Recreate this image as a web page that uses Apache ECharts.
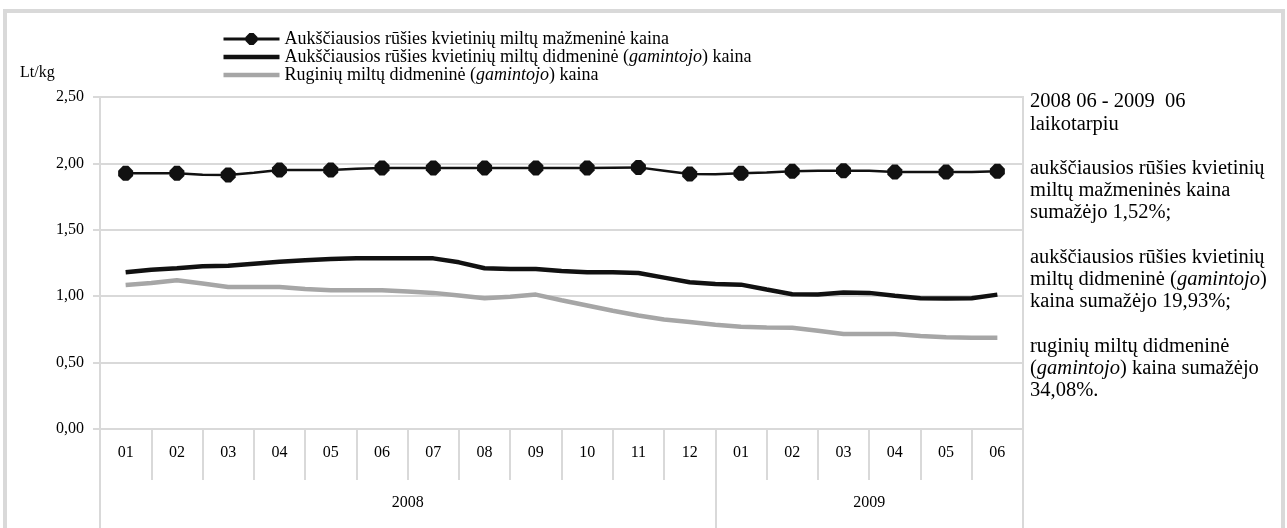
<!DOCTYPE html>
<html>
<head>
<meta charset="utf-8">
<script src="https://cdn.jsdelivr.net/npm/echarts@6/dist/echarts.min.js"></script>
<style>
html,body{margin:0;padding:0;background:#fff;}
#chart{width:1287px;height:528px;}
</style>
</head>
<body>
<div id="chart"></div>
<script>
// ---- data ----
const months = ['01','02','03','04','05','06','07','08','09','10','11','12','01','02','03','04','05','06'];
const years = ['2008', '2009'];
const yearSpans = [12, 6];
const seriesNames = [
  'Aukščiausios rūšies kvietinių miltų mažmeninė kaina',
  'Aukščiausios rūšies kvietinių miltų didmeninė (gamintojo) kaina',
  'Ruginių miltų didmeninė (gamintojo) kaina'
];
// half-month resolution: month, mid, month, mid, ... (35 points, 01-2008 .. 06-2009)
const retail = [1.925,1.925,1.925,1.915,1.913,1.930,1.950,1.950,1.950,1.960,1.966,1.966,1.966,1.966,1.966,1.966,1.966,1.966,1.966,1.968,1.970,1.945,1.920,1.918,1.925,1.932,1.940,1.945,1.945,1.945,1.935,1.935,1.935,1.935,1.940];
const wheatWholesale = [1.18,1.20,1.21,1.225,1.23,1.245,1.26,1.27,1.28,1.285,1.285,1.285,1.285,1.255,1.21,1.205,1.205,1.19,1.18,1.18,1.175,1.14,1.105,1.092,1.087,1.05,1.015,1.012,1.027,1.025,1.003,0.985,0.983,0.985,1.012];
const ryeWholesale = [1.085,1.10,1.12,1.095,1.07,1.07,1.07,1.055,1.045,1.045,1.045,1.035,1.025,1.005,0.985,0.995,1.012,0.97,0.93,0.89,0.855,0.825,0.805,0.785,0.77,0.765,0.762,0.74,0.715,0.715,0.715,0.70,0.69,0.688,0.688];
const yTicks = [0, 0.5, 1.0, 1.5, 2.0, 2.5];
const noteLines = [
  '2008 06 - 2009  06',
  'laikotarpiu',
  '',
  'aukščiausios rūšies kvietinių',
  'miltų mažmeninės kaina',
  'sumažėjo 1,52%;',
  '',
  'aukščiausios rūšies kvietinių',
  'miltų didmeninė ({i|gamintojo})',
  'kaina sumažėjo 19,93%;',
  '',
  'ruginių miltų didmeninė',
  '({i|gamintojo}) kaina sumažėjo',
  '34,08%.'
];

// ---- build ----
const FONT = '"Liberation Serif","Times New Roman",serif';
const nMonths = months.length;
const toPairs = arr => arr.map((v, i) => [0.5 + i * 0.5, v]);
const yearCats = new Array(nMonths * 2 + 1).fill('');
const yearBounds = [0];
let acc = 0;
years.forEach((y, k) => {
  yearCats[(acc * 2) + yearSpans[k]] = y;
  acc += yearSpans[k];
  yearBounds.push(acc * 2);
});
const marker = 'path://M-0.35,-1 L0.35,-1 L1,-0.35 L1,0.35 L0.35,1 L-0.35,1 L-1,0.35 L-1,-0.35 Z';
const thickLine = 'path://M0,0 L56,0 L56,4.5 L0,4.5 Z';
const gridColor = '#d9d9d9';

const chart = echarts.init(document.getElementById('chart'));
chart.setOption({
  animation: false,
  backgroundColor: '#fff',
  textStyle: { fontFamily: FONT, color: '#000' },
  grid: { left: 100, right: 264, top: 97, bottom: 99, show: true, borderColor: gridColor, borderWidth: 2, containLabel: false },
  legend: {
    orient: 'vertical',
    left: 217,
    top: 25,
    itemWidth: 56,
    itemHeight: 15,
    itemGap: 0,
    data: [
      { name: seriesNames[0], lineStyle: { width: 3, color: '#111' } },
      { name: seriesNames[1], icon: thickLine, itemStyle: { color: '#111' } },
      { name: seriesNames[2], icon: thickLine, itemStyle: { color: '#a6a6a6' } }
    ],
    formatter: n => n.replace('(gamintojo)', '({i|gamintojo})'),
    textStyle: {
      fontFamily: FONT, fontSize: 18, lineHeight: 17.5, color: '#000',
      rich: { i: { fontStyle: 'italic', fontFamily: FONT, fontSize: 18, lineHeight: 17.5, color: '#000' } }
    }
  },
  xAxis: [
    {
      type: 'category', data: months, position: 'bottom', boundaryGap: true,
      axisLine: { show: true, lineStyle: { color: gridColor, width: 2 } },
      axisTick: { show: true, interval: 0, length: 51, lineStyle: { color: gridColor, width: 2 } },
      axisLabel: { interval: 0, margin: 16, color: '#000', fontFamily: FONT, fontSize: 16 },
      splitLine: { show: false }
    },
    {
      type: 'category', data: yearCats, position: 'bottom', boundaryGap: false,
      axisLine: { show: false },
      axisTick: { show: true, interval: (i) => yearBounds.indexOf(i) >= 0, length: 99, lineStyle: { color: gridColor, width: 2 } },
      axisLabel: { interval: (i, v) => v !== '', margin: 66, color: '#000', fontFamily: FONT, fontSize: 16 },
      splitLine: { show: false }
    },
    { type: 'value', min: 0, max: nMonths, show: false }
  ],
  yAxis: {
    type: 'value', min: yTicks[0], max: yTicks[yTicks.length - 1], interval: 0.5,
    axisLine: { show: true, lineStyle: { color: gridColor, width: 2 } },
    axisTick: { show: true, length: 7, lineStyle: { color: gridColor, width: 2 } },
    axisLabel: { margin: 16, color: '#000', fontFamily: FONT, fontSize: 16, formatter: v => v.toFixed(2).replace('.', ',') },
    splitLine: { show: true, lineStyle: { color: gridColor, width: 2 } }
  },
  series: [
    {
      name: seriesNames[0], type: 'line', xAxisIndex: 2,
      data: toPairs(retail).map((p, i) => i % 2 === 0 ? { value: p } : { value: p, symbol: 'none' }),
      symbol: marker, symbolSize: 15,
      lineStyle: { color: '#111', width: 2.5 },
      itemStyle: { color: '#111' },
      z: 4
    },
    {
      name: seriesNames[1], type: 'line', xAxisIndex: 2,
      data: toPairs(wheatWholesale), symbol: 'none',
      lineStyle: { color: '#111', width: 4.5 }, itemStyle: { color: '#111' }, z: 3
    },
    {
      name: seriesNames[2], type: 'line', xAxisIndex: 2,
      data: toPairs(ryeWholesale), symbol: 'none',
      lineStyle: { color: '#a6a6a6', width: 4.5 }, itemStyle: { color: '#a6a6a6' }, z: 2
    }
  ],
  graphic: [
    { type: 'rect', silent: true, z: 100, shape: { x: 5, y: 11, width: 1278, height: 540 }, style: { fill: 'none', stroke: gridColor, lineWidth: 4 } },
    { type: 'text', left: 20, top: 65, style: { text: 'Lt/kg', font: '16px ' + FONT, fill: '#000' } },
    {
      type: 'text', left: 1030, top: 91,
      style: {
        text: noteLines.join('\n'),
        fontFamily: FONT, fontSize: 20.5, lineHeight: 22.2, fill: '#000',
        rich: { i: { fontStyle: 'italic', fontFamily: FONT, fontSize: 20.5, lineHeight: 22.2, fill: '#000' } }
      }
    }
  ]
});
</script>
</body>
</html>
